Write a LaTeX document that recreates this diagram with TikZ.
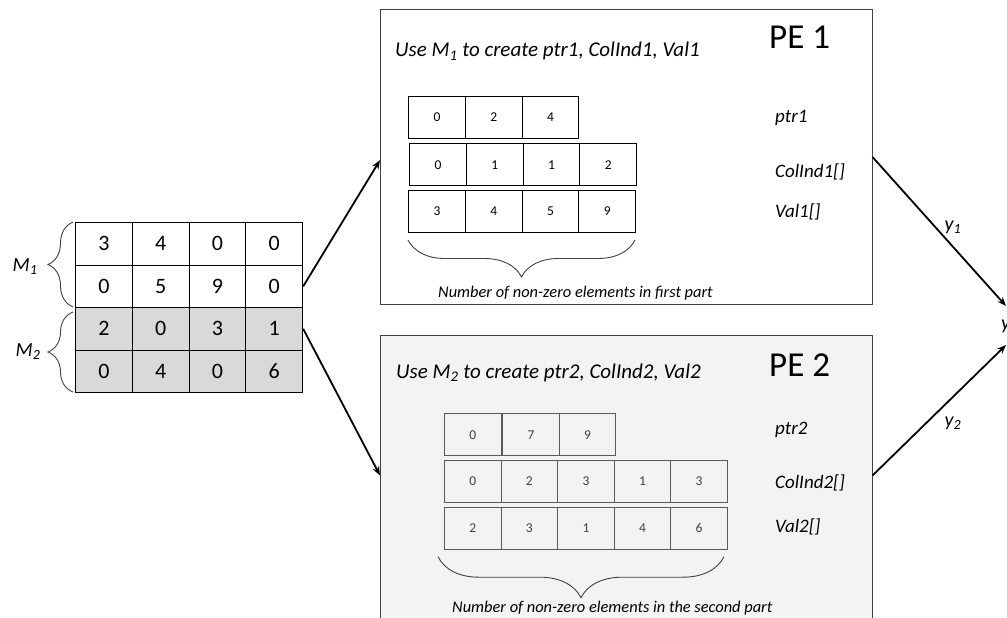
\documentclass[tikz,border=0pt]{standalone}
\usepackage{fontspec}
\setmainfont{Carlito}
\usetikzlibrary{decorations.pathreplacing,arrows.meta}
\definecolor{mgrey}{HTML}{D9D9D9}
\definecolor{pegrey}{HTML}{F3F3F3}
\definecolor{bordergrey}{HTML}{404040}
\definecolor{cellgrey}{HTML}{595959}
\begin{document}
\begin{tikzpicture}[x=1pt,y=-1pt,
  mcell/.style={draw=black, line width=1.2pt, minimum width=56.75pt, minimum height=42.5pt, inner sep=0pt, anchor=north west, font=\fontsize{22}{24}\selectfont},
  acell/.style={draw=black, line width=0.9pt, minimum width=56.7pt, minimum height=42pt, inner sep=0pt, anchor=north west, font=\fontsize{13.5}{15}\selectfont},
  bcell/.style={acell, minimum width=56.6pt, draw=cellgrey, text=bordergrey},
  pebox/.style={draw=bordergrey, line width=0.9pt, inner sep=0pt, anchor=north west},
  petitle/.style={anchor=base west, inner sep=0pt, font=\fontsize{35}{38}\selectfont},
  usetext/.style={anchor=base west, inner sep=0pt, font=\fontsize{21}{24}\selectfont\itshape},
  lbl/.style={anchor=west, inner sep=0pt, font=\fontsize{19}{22}\selectfont\itshape},
  note/.style={anchor=west, inner sep=0pt, font=\fontsize{16.4}{18}\selectfont\itshape},
  mlbl/.style={inner sep=0pt, font=\fontsize{20}{22}\selectfont\itshape},
  arr/.style={line width=1.8pt, -{Stealth[length=9pt,width=7pt]}},
  brc/.style={decorate, draw=bordergrey, line width=0.9pt},
]
\useasboundingbox (0,0) rectangle (1007,618);

% PE boxes
\node[pebox, minimum width=491.7pt, minimum height=294.7pt] (pe1) at (380,9.3) {};
\node[pebox, fill=pegrey, minimum width=491.7pt, minimum height=290pt] (pe2) at (380,335) {};

% left matrix
\foreach \r/\vals in {1/{3,4,0,0},2/{0,5,9,0}} {
  \foreach \v [count=\c] in \vals {
    \node[mcell] (m-\r-\c) at ({75+(\c-1)*56.75},{222+(\r-1)*42.5}) {\v};
  }
}
\foreach \r/\vals in {3/{2,0,3,1},4/{0,4,0,6}} {
  \foreach \v [count=\c] in \vals {
    \node[mcell, fill=mgrey] (m-\r-\c) at ({75+(\c-1)*56.75},{222+(\r-1)*42.5}) {\v};
  }
}
\draw[brc, decoration={brace, amplitude=25pt}] (73,307) -- (73,222);
\draw[brc, decoration={brace, amplitude=25pt}] (73,392) -- (73,312);
\node[mlbl] (m1) at (25,267) {M\textsubscript{1}};
\node[mlbl] (m2) at (28,352) {M\textsubscript{2}};

% PE 1 content
\node[usetext] (t1) at (395,57) {Use M\textsubscript{1} to create ptr1, ColInd1, Val1};
\node[petitle] (p1) at (769,49) {PE 1};
\foreach \v [count=\c] in {0,2,4}
  \node[acell] (p1a-\c) at ({408.3+(\c-1)*56.7},96) {\v};
\foreach \v [count=\c] in {0,1,1,2}
  \node[acell] (p1b-\c) at ({409.3+(\c-1)*56.7},143.3) {\v};
\foreach \v [count=\c] in {3,4,5,9}
  \node[acell] (p1c-\c) at ({408.3+(\c-1)*56.7},190) {\v};
\node[lbl] (l1a) at (775,118) {ptr1};
\node[lbl] (l1b) at (775,171.5) {ColInd1[]};
\node[lbl] (l1c) at (775,212) {Val1[]};
\draw[brc, decoration={brace, amplitude=37pt}] (635,240) -- (408,240);
\node[note] (n1) at (438,293) {Number of non-zero elements in first part};

% PE 2 content
\node[usetext] (t2) at (396,378) {Use M\textsubscript{2} to create ptr2, ColInd2, Val2};
\node[petitle] (p2) at (769,376) {PE 2};
\node[bcell] (p2a-1) at (444,413.3) {0};
\node[bcell] (p2a-2) at (502.2,413.3) {7};
\node[bcell] (p2a-3) at (558.8,413.3) {9};
\foreach \v [count=\c] in {0,2,3,1,3}
  \node[bcell] (p2b-\c) at ({444+(\c-1)*56.6},460) {\v};
\foreach \v [count=\c] in {2,3,1,4,6}
  \node[bcell] (p2c-\c) at ({444+(\c-1)*56.6},506.7) {\v};
\node[lbl] (l2a) at (775,430) {ptr2};
\node[lbl] (l2b) at (775,483) {ColInd2[]};
\node[lbl] (l2c) at (775,527) {Val2[]};
\draw[brc, decoration={brace, amplitude=41pt}] (724,556.7) -- (438,556.7);
\node[note] (n2) at (452,608) {Number of non-zero elements in the second part};

% output
\node[anchor=west, inner sep=0pt, font=\fontsize{20}{24}\selectfont\itshape] (y) at (1001,326) {y};
\coordinate (yin1) at (1006,306);
\coordinate (yin2) at (1006,345);
\node[mlbl] (y1) at (953,227) {y\textsubscript{1}};
\node[mlbl] (y2) at (953,423) {y\textsubscript{2}};

% arrows
\draw[arr] (m-2-4.east) -- ([yshift=-3pt]pe1.west);
\draw[arr] (m-3-4.east) -- ([yshift=5pt]pe2.west);
\draw[arr] (pe1.east) -- (yin1);
\draw[arr] ([yshift=5pt]pe2.east) -- (yin2);
\end{tikzpicture}
\end{document}
